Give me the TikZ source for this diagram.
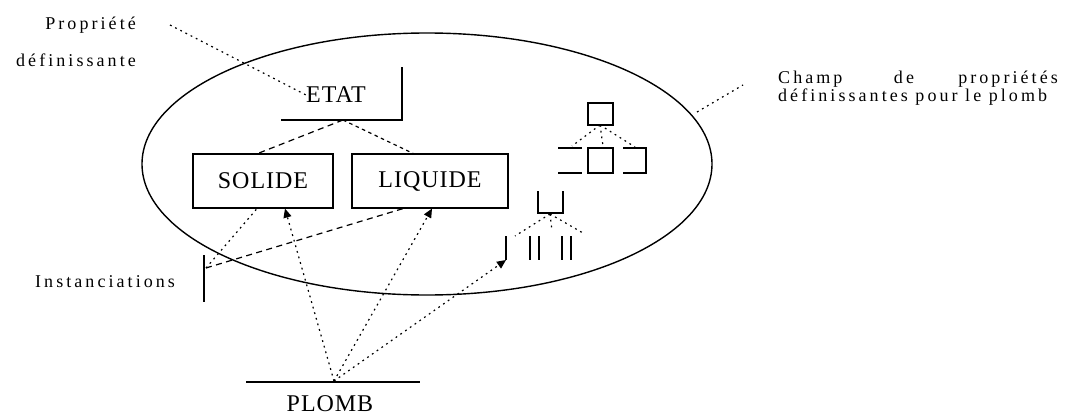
\documentclass[tikz,border=0pt]{standalone}
\usepackage{fontspec}
\usetikzlibrary{arrows.meta,shapes.geometric}
\newfontfamily\lblfont[LetterSpace=17]{Liberation Serif}
\newfontfamily\boxfont[LetterSpace=4]{Liberation Serif}
\begin{document}
\begin{tikzpicture}[x=1pt,y=-1pt,
  lbl/.style={font=\lblfont\fontsize{18}{20}\selectfont,inner sep=0pt},
  bxl/.style={font=\boxfont\fontsize{24}{26}\selectfont,inner sep=0pt},
  statebox/.style={draw,line width=1.2pt,inner sep=0pt,font=\boxfont\fontsize{24}{26}\selectfont},
  solid1/.style={line width=1.2pt},
  dotl/.style={line width=1.2pt,dash pattern=on 1.8pt off 4pt},
  dashl/.style={line width=1.2pt,dash pattern=on 6pt off 4.5pt},
  arr/.style={-{Triangle[length=9pt,width=8pt]}},
  mini/.style={line width=1.2pt}]
\useasboundingbox (0,0) rectangle (1072,415);
% ellipse
\node[draw,ellipse,line width=1.4pt,minimum width=570pt,minimum height=262pt,inner sep=0pt] (champ) at (427,164) {};
% ETAT
\node[bxl] (etat) at (336,95) {ETAT};
\draw[solid1] (281,120) -- (402,120) -- (402,67);
\coordinate (etatb) at (343,120);
% boxes
\node[statebox,minimum width=140pt,minimum height=54pt] (solide) at (263,181) {SOLIDE};
\node[statebox,minimum width=156pt,minimum height=54pt] (liquide) at (430,181) {LIQUIDE};
\draw[dashl] (etatb) -- (solide.north -| 258,0);
\draw[dashl,dash pattern=on 3.5pt off 3.5pt] (etatb) -- (liquide.north -| 413,0);
% Propriete label
\node[lbl,anchor=base east] (prop1) at (136,30) {Propriété};
\node[lbl,anchor=base east] (prop2) at (136,66) {définissante};
\coordinate (prope) at (170,25);
\draw[dotl] (prope) -- (etat.west);
% Instanciations
\node[lbl,anchor=base west] (inst) at (35,287) {Instanciations};
\draw[solid1] (204,255) -- (204,302);
\coordinate (insto) at (206,268);
\draw[dotl] (insto) -- (solide.south -| 257,0);
\draw[dashl] (insto) -- (liquide.south -| 403,0);
% PLOMB
\node[bxl,anchor=base] (plomb) at (330,411) {PLOMB};
\draw[solid1] (246,382) -- (420,382);
\coordinate (plo) at (334,381);
% tree 1
\draw[mini] (588,103) rectangle (613,125);
\draw[mini] (558,148) -- (582,148) (558,173) -- (582,173);
\draw[mini] (588,148) rectangle (613,173);
\draw[mini] (623,148) -- (646,148) -- (646,173) -- (623,173);
\coordinate (t1p) at (600,125);
\coordinate (t1a) at (572,146);
\coordinate (t1b) at (603,146);
\coordinate (t1c) at (635,147);
\draw[dotl] (t1p) -- (t1a);
\draw[dotl] (t1p) -- (t1b);
\draw[dotl] (t1p) -- (t1c);
% tree 2
\draw[mini] (538,191) -- (538,213) -- (563,213) -- (563,191);
\draw[mini] (506,236) -- (506,260);
\draw[mini] (530,236) -- (530,260) (539,236) -- (539,260);
\draw[mini] (562,236) -- (562,260) (571,236) -- (571,260);
\coordinate (t2p) at (550,214);
\coordinate (t2a) at (515,236);
\coordinate (t2b) at (552,231);
\coordinate (t2c) at (583,233);
\coordinate (t2leaf) at (506,260);
\draw[dotl] (t2p) -- (t2a);
\draw[dotl] (t2p) -- (t2b);
\draw[dotl] (t2p) -- (t2c);
% arrows from PLOMB
\draw[dotl,arr] (plo) -- (solide.south -| 285,0);
\draw[dotl,arr] (plo) -- (liquide.south -| 432,0);
\draw[dotl,arr] (plo) -- (t2leaf);
% Champ label
\node[lbl,anchor=base west] (ch1) at (778,83) {Champ};
\node[lbl,anchor=base] (ch2) at (904,83) {de};
\node[lbl,anchor=base east] (ch3) at (1058,83) {propriétés};
\node[lbl,anchor=base west] (ch4) at (778,101) {définissantes pour le plomb};
\coordinate (chs) at (697,112);
\coordinate (che) at (743,85);
\draw[dotl] (chs) -- (che);
\end{tikzpicture}
\end{document}
